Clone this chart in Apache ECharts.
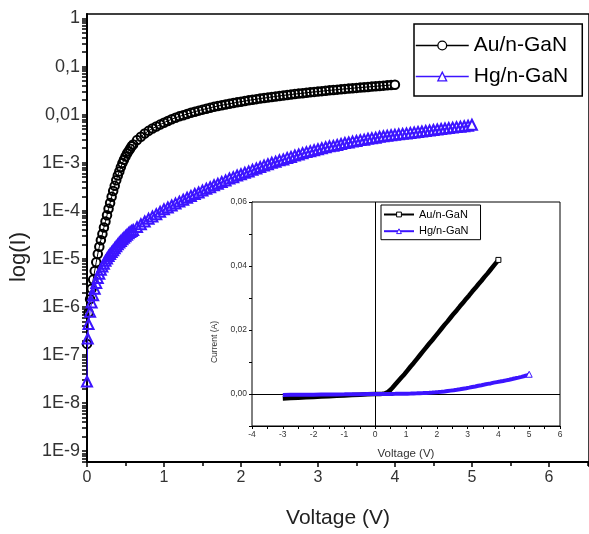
<!DOCTYPE html>
<html><head><meta charset="utf-8">
<script src="https://cdn.jsdelivr.net/npm/echarts@6/dist/echarts.min.js"></script>
<style>html,body{margin:0;padding:0;background:#fff}#c{width:589px;height:534px}</style>
</head><body><div id="c"></div>
<script>
// ---------------- data ----------------
const seriesNames = ['Au/n-GaN', 'Hg/n-GaN'];

// Au/n-GaN forward bias: voltage (V) and current (A)
const auV = [0,0.02,0.04,0.06,0.08,0.10,0.12,0.14,0.16,0.18,0.20,0.22,0.24,0.26,0.28,0.30,0.32,0.34,0.36,0.38,0.40,0.42,0.44,0.46,0.48,0.50,0.52,0.54,0.56,0.58,0.60,
  0.65,0.70,0.75,0.80,0.85,0.90,0.95,1.00,1.05,1.10,1.15,1.20,1.25,1.30,1.35,1.40,1.45,1.50,1.55,1.60,1.65,1.70,1.75,1.80,1.85,1.90,1.95,2.00,
  2.05,2.10,2.15,2.20,2.25,2.30,2.35,2.40,2.45,2.50,2.55,2.60,2.65,2.70,2.75,2.80,2.85,2.90,2.95,3.00,
  3.05,3.10,3.15,3.20,3.25,3.30,3.35,3.40,3.45,3.50,3.55,3.60,3.65,3.70,3.75,3.80,3.85,3.90,3.95,4.00];
const auI = [1.7e-7,7.6e-7,1.45e-6,2.4e-6,3.7e-6,5.6e-6,8.5e-6,1.26e-5,1.78e-5,2.45e-5,3.3e-5,4.5e-5,6.0e-5,8.1e-5,1.10e-4,1.45e-4,1.95e-4,2.57e-4,3.3e-4,4.3e-4,5.4e-4,6.6e-4,8.1e-4,9.8e-4,1.15e-3,1.35e-3,1.55e-3,1.74e-3,1.95e-3,2.19e-3,2.40e-3,
  2.95e-3,3.47e-3,4.05e-3,4.6e-3,5.15e-3,5.65e-3,6.2e-3,6.8e-3,7.4e-3,8.0e-3,8.6e-3,9.2e-3,9.7e-3,1.03e-2,1.09e-2,1.15e-2,1.21e-2,1.27e-2,1.33e-2,1.39e-2,1.45e-2,1.51e-2,1.57e-2,1.62e-2,1.68e-2,1.74e-2,1.80e-2,1.86e-2,
  1.92e-2,1.98e-2,2.04e-2,2.10e-2,2.16e-2,2.21e-2,2.27e-2,2.33e-2,2.39e-2,2.45e-2,2.51e-2,2.56e-2,2.62e-2,2.68e-2,2.74e-2,2.79e-2,2.85e-2,2.91e-2,2.97e-2,3.02e-2,
  3.08e-2,3.14e-2,3.20e-2,3.25e-2,3.31e-2,3.37e-2,3.43e-2,3.48e-2,3.54e-2,3.60e-2,3.66e-2,3.71e-2,3.77e-2,3.83e-2,3.89e-2,3.95e-2,4.01e-2,4.07e-2,4.13e-2,4.19e-2];

// Hg/n-GaN forward bias: voltage (V) and current (A)
const hgV = [0,0.01,0.02,0.04,0.06,0.08,0.10,0.12,0.14,0.16,0.18,0.20,0.22,0.24,0.26,0.28,0.30,0.32,0.34,0.36,0.38,0.40,0.42,0.44,0.46,0.48,0.50,0.52,0.54,0.56,0.58,0.60,
  0.65,0.70,0.75,0.80,0.85,0.90,0.95,1.00,1.05,1.10,1.15,1.20,1.25,1.30,1.35,1.40,1.45,1.50,1.55,1.60,1.65,1.70,1.75,1.80,1.85,1.90,1.95,2.00,
  2.05,2.10,2.15,2.20,2.25,2.30,2.35,2.40,2.45,2.50,2.55,2.60,2.65,2.70,2.75,2.80,2.85,2.90,2.95,3.00,
  3.05,3.10,3.15,3.20,3.25,3.30,3.35,3.40,3.45,3.50,3.55,3.60,3.65,3.70,3.75,3.80,3.85,3.90,3.95,4.00,
  4.05,4.10,4.15,4.20,4.25,4.30,4.35,4.40,4.45,4.50,4.55,4.60,4.65,4.70,4.75,4.80,4.85,4.90,4.95,5.00];
const hgI = [2.8e-8,2.2e-7,4.4e-7,7.9e-7,1.23e-6,1.74e-6,2.4e-6,3.16e-6,3.98e-6,4.9e-6,5.9e-6,6.9e-6,7.9e-6,9.1e-6,1.02e-5,1.15e-5,1.26e-5,1.38e-5,1.51e-5,1.66e-5,1.82e-5,2.0e-5,2.19e-5,2.34e-5,2.57e-5,2.75e-5,2.95e-5,3.16e-5,3.39e-5,3.63e-5,3.8e-5,3.98e-5,
  4.57e-5,5.25e-5,6.0e-5,6.8e-5,7.6e-5,8.5e-5,9.5e-5,1.07e-4,1.17e-4,1.29e-4,1.41e-4,1.55e-4,1.70e-4,1.86e-4,2.04e-4,2.24e-4,2.40e-4,2.63e-4,2.88e-4,3.09e-4,3.39e-4,3.63e-4,3.98e-4,4.27e-4,4.68e-4,5.0e-4,5.4e-4,5.75e-4,
  6.2e-4,6.6e-4,7.1e-4,7.6e-4,8.1e-4,8.7e-4,9.3e-4,1.00e-3,1.05e-3,1.12e-3,1.17e-3,1.26e-3,1.32e-3,1.41e-3,1.48e-3,1.58e-3,1.66e-3,1.74e-3,1.82e-3,1.91e-3,
  2.0e-3,2.09e-3,2.19e-3,2.24e-3,2.34e-3,2.45e-3,2.57e-3,2.63e-3,2.75e-3,2.82e-3,2.95e-3,3.02e-3,3.16e-3,3.24e-3,3.31e-3,3.47e-3,3.55e-3,3.63e-3,3.72e-3,3.80e-3,
  3.89e-3,3.98e-3,4.07e-3,4.17e-3,4.27e-3,4.37e-3,4.47e-3,4.57e-3,4.68e-3,4.79e-3,4.90e-3,5.01e-3,5.13e-3,5.25e-3,5.37e-3,5.50e-3,5.62e-3,5.75e-3,5.89e-3,6.17e-3];

// reverse bias part shown only in the inset
const insetNegV = [-3,-2.75,-2.5,-2.25,-2,-1.75,-1.5,-1.25,-1,-0.75,-0.5,-0.25];
const auNegI = [-1.4e-3,-1.27e-3,-1.15e-3,-1.02e-3,-9.0e-4,-7.9e-4,-6.8e-4,-5.7e-4,-4.6e-4,-3.5e-4,-2.3e-4,-1.1e-4];
const hgNegI = [-3.0e-4,-2.7e-4,-2.5e-4,-2.2e-4,-2.0e-4,-1.7e-4,-1.5e-4,-1.2e-4,-1.0e-4,-7e-5,-5e-5,-2e-5];

// tick labels
const yTickValues = [1e-9,1e-8,1e-7,1e-6,1e-5,1e-4,1e-3,1e-2,1e-1,1];
const yTickLabels = ['1E-9','1E-8','1E-7','1E-6','1E-5','1E-4','1E-3','0,01','0,1','1'];
const insetYLabelValues = [0, 0.02, 0.04, 0.06];
const insetYLabels = ['0,00','0,02','0,04','0,06'];

// ---------------- chart ----------------
const FONT = '"Liberation Sans", Arial, Helvetica, sans-serif';
const BLUE = '#3c14ff';
const INSET = ' (inset)';
const Y_MIN = 5.94e-10, Y_MAX = 1.24;
const X_MAX = 6.521;

const pairs = (xs, ys) => xs.map((x, i) => [x, ys[i]]);
const auMain = pairs(auV, auI);
const hgMain = pairs(hgV, hgI);

function withEndMarker(arr, symbol, color, size) {
  const out = arr.slice();
  const last = out[out.length - 1];
  out[out.length - 1] = { value: last, symbol: symbol, symbolSize: size,
    itemStyle: { color: '#fff', borderColor: color, borderWidth: 1 } };
  return out;
}
function withEndFill(arr) {
  const out = arr.slice();
  const last = out[out.length - 1];
  out[out.length - 1] = { value: last, itemStyle: { color: '#fff' } };
  return out;
}
const auInset = withEndMarker(pairs(insetNegV, auNegI).concat(auMain), 'rect', '#000', 5);
const hgInset = withEndMarker(pairs(insetNegV, hgNegI).concat(hgMain), 'triangle', BLUE, 6);

// log-scale tick positions on the left axis (decades + 2..9 sub-divisions)
const yAllTicks = [];
for (let e = -10; e <= 0; e++) for (let m = 1; m <= 9; m++) {
  const v = m * Math.pow(10, e);
  if (v > Y_MIN * 1.0001 && v < Y_MAX) yAllTicks.push(v);
}

const chart = echarts.init(document.getElementById('c'), null, { renderer: 'canvas' });
chart.setOption({
  animation: false,
  textStyle: { fontFamily: FONT },
  grid: [
    { left: 83, top: 14, width: 508, height: 452, show: true, borderColor: '#000', borderWidth: 1.5 },
    { left: 252, top: 202, width: 308, height: 224, show: true, borderColor: '#000', borderWidth: 1, backgroundColor: '#fff', z: 5 }
  ],
  legend: [
    { data: seriesNames, orient: 'vertical', left: 414, top: 24, selectedMode: false,
      padding: [11, 14, 9, 1], itemGap: 10, itemWidth: 53, itemHeight: 11,
      borderColor: '#000', borderWidth: 1.5, backgroundColor: '#fff',
      lineStyle: { width: 1.5 }, itemStyle: { color: '#fff', borderWidth: 1.3 },
      textStyle: { fontSize: 21, color: '#000', fontFamily: FONT } },
    { data: seriesNames.map(n => n + INSET), orient: 'vertical', left: 381, top: 205, selectedMode: false,
      padding: [4, 12, 3, 2], itemGap: 5.7, itemWidth: 30, itemHeight: 6,
      borderColor: '#000', borderWidth: 1, backgroundColor: '#fff', z: 10,
      lineStyle: { width: 2 }, itemStyle: { color: '#fff', borderWidth: 1 },
      formatter: n => n.replace(INSET, ''),
      textStyle: { fontSize: 11, color: '#000', fontFamily: FONT } }
  ],
  xAxis: [
    { gridIndex: 0, type: 'value', min: 0, max: X_MAX, interval: 1,
      axisLine: { onZero: false, lineStyle: { color: '#000', width: 2 } },
      axisTick: { length: 5, lineStyle: { color: '#000', width: 1.5 } },
      minorTick: { show: true, splitNumber: 2, length: 4, lineStyle: { color: '#000', width: 1.5 } },
      axisLabel: { fontSize: 16, color: '#333', margin: 8, showMaxLabel: false, fontFamily: FONT },
      splitLine: { show: false },
      name: 'Voltage (V)', nameLocation: 'middle', nameGap: 46,
      nameTextStyle: { fontSize: 21, color: '#222', fontFamily: FONT } },
    { gridIndex: 1, type: 'value', min: -4, max: 6, interval: 0.5,
      axisLine: { onZero: false, lineStyle: { color: '#000', width: 1 } },
      axisTick: { length: 3, lineStyle: { color: '#000', width: 1 } },
      axisLabel: { fontSize: 8.5, color: '#333', margin: 4, fontFamily: FONT,
        formatter: v => (Math.abs(v - Math.round(v)) < 1e-9 ? String(Math.round(v)) : '') },
      splitLine: { show: false },
      name: 'Voltage (V)', nameLocation: 'middle', nameGap: 22,
      nameTextStyle: { fontSize: 11.5, color: '#333', fontFamily: FONT } }
  ],
  yAxis: [
    { gridIndex: 0, type: 'log', logBase: 10, min: Y_MIN, max: Y_MAX, position: 'left',
      axisLine: { onZero: false, lineStyle: { color: '#000', width: 2 } },
      axisTick: { customValues: yAllTicks, length: 5, lineStyle: { color: '#000', width: 1.5 } },
      axisLabel: { customValues: yTickValues, fontSize: 18, color: '#333', margin: 7, fontFamily: FONT,
        formatter: v => yTickLabels[Math.round(Math.log10(v)) + 9] },
      splitLine: { show: false },
      name: 'log(I)', nameLocation: 'middle', nameGap: 57,
      nameTextStyle: { fontSize: 22, color: '#222', fontFamily: FONT, padding: [0, 38, 0, 0] } },
    { gridIndex: 1, type: 'value', min: -0.01, max: 0.06, interval: 0.01,
      axisLine: { onZero: false, lineStyle: { color: '#000', width: 1 } },
      axisTick: { length: 3, lineStyle: { color: '#000', width: 1 } },
      axisLabel: { fontSize: 8.5, color: '#333', margin: 5, fontFamily: FONT,
        formatter: v => { const k = insetYLabelValues.findIndex(t => Math.abs(t - v) < 1e-9); return k >= 0 ? insetYLabels[k] : ''; } },
      splitLine: { show: false },
      name: 'Current (A)', nameLocation: 'middle', nameGap: 32,
      nameTextStyle: { fontSize: 8.5, color: '#333', fontFamily: FONT, padding: [0, 56, 0, 0] } }
  ],
  series: [
    { name: seriesNames[0], type: 'line', xAxisIndex: 0, yAxisIndex: 0, data: withEndFill(auMain), clip: false,
      symbol: 'circle', symbolSize: 8.5,
      itemStyle: { color: 'rgba(255,255,255,0)', borderColor: '#000', borderWidth: 2 },
      lineStyle: { color: '#000', width: 1 }, z: 2 },
    { name: seriesNames[1], type: 'line', xAxisIndex: 0, yAxisIndex: 0, data: withEndFill(hgMain), clip: false,
      symbol: 'triangle', symbolSize: 10,
      itemStyle: { color: 'rgba(255,255,255,0)', borderColor: BLUE, borderWidth: 2 },
      lineStyle: { color: BLUE, width: 1 }, z: 3 },
    { name: seriesNames[0] + INSET, type: 'line', xAxisIndex: 1, yAxisIndex: 1, data: auInset,
      symbol: 'rect', symbolSize: 0,
      itemStyle: { color: '#fff', borderColor: '#000', borderWidth: 1 },
      lineStyle: { color: '#000', width: 4.5 }, z: 6,
      markLine: { silent: true, symbol: ['none', 'none'], label: { show: false },
        lineStyle: { color: '#000', width: 1, type: 'solid' },
        data: [{ yAxis: 0 }, { xAxis: 0 }] } },
    { name: seriesNames[1] + INSET, type: 'line', xAxisIndex: 1, yAxisIndex: 1, data: hgInset,
      symbol: 'triangle', symbolSize: 0,
      itemStyle: { color: '#fff', borderColor: BLUE, borderWidth: 1 },
      lineStyle: { color: BLUE, width: 4 }, z: 7 }
  ]
});
</script>
</body></html>
